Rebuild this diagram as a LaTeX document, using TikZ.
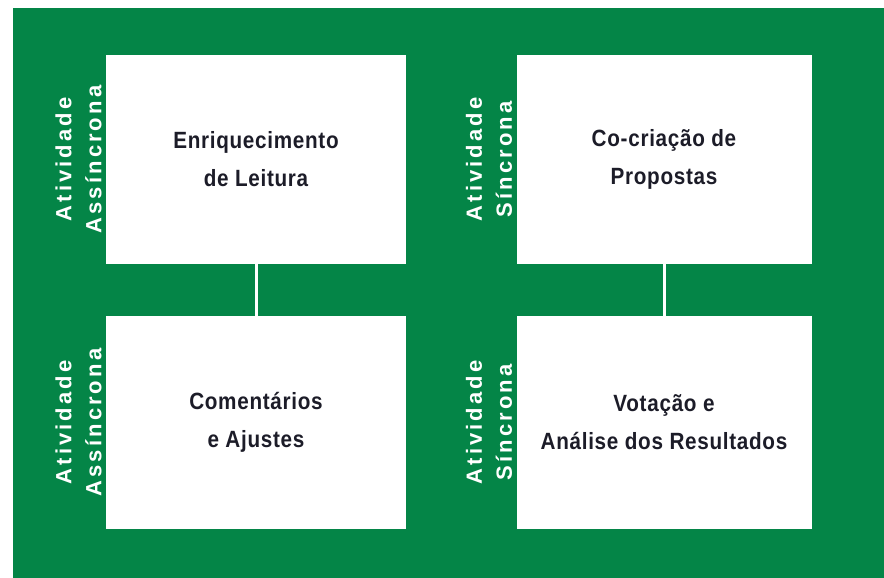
\documentclass[tikz,border=0pt]{standalone}
\usepackage{fontspec}
\usepackage{tikz}
\usetikzlibrary{positioning}

\newfontfamily\boxfont{Liberation Sans Bold}[FakeStretch=0.88,LetterSpace=3]
\newfontfamily\sidefont{Liberation Sans Bold}[LetterSpace=14]

\definecolor{bggreen}{RGB}{4,133,71}
\definecolor{boxtext}{RGB}{28,28,40}

\tikzset{
	stagebox/.style={fill=white, minimum width=300pt, minimum height=209pt, inner sep=0pt,
		align=center, text=boxtext, font={\boxfont\fontsize{23.5}{38}\selectfont}},
	sidelabel/.style={rotate=90, anchor=south, inner sep=0pt, align=center,
		text=white, font={\sidefont\fontsize{22}{30}\selectfont}},
	link/.style={draw=white, line width=3pt}
}

\begin{document}
\begin{tikzpicture}[x=1pt,y=1pt,on grid]
		\useasboundingbox (0,0) rectangle (884,578);
		\fill[white] (0,0) rectangle (884,578);
		\fill[bggreen] (13,0) rectangle (884,570);
		
		% left
		\node[stagebox] (leitura) at (256,418.5) {Enriquecimento\\de Leitura};
		\node[stagebox, minimum height=213pt, below = 263pt of leitura] (ajustes) {Comentários\\e Ajustes};
		
		% right
		\node[stagebox, minimum width=295pt, right = 408pt of leitura] (propostas) {Co-criação de\\Propostas};
		\node[stagebox, minimum width=295pt, minimum height=213pt, below = 263pt of propostas] (votacao) {Votação e\\Análise dos Resultados};
		
		% side labels
		\node[sidelabel] (lblleitura) at ([xshift=-4pt]leitura.west) {Atividade\\Assíncrona};
		\node[sidelabel] (lblajustes) at ([xshift=-4pt]ajustes.west) {Atividade\\Assíncrona};
		\node[sidelabel] (lblpropostas) at ([xshift=-4pt]propostas.west) {Atividade\\Síncrona};
		\node[sidelabel] (lblvotacao) at ([xshift=-4pt]votacao.west) {Atividade\\Síncrona};
		
		% links
		\path[link] (leitura) -- (ajustes)
		(propostas) -- (votacao);
\end{tikzpicture}
\end{document}
